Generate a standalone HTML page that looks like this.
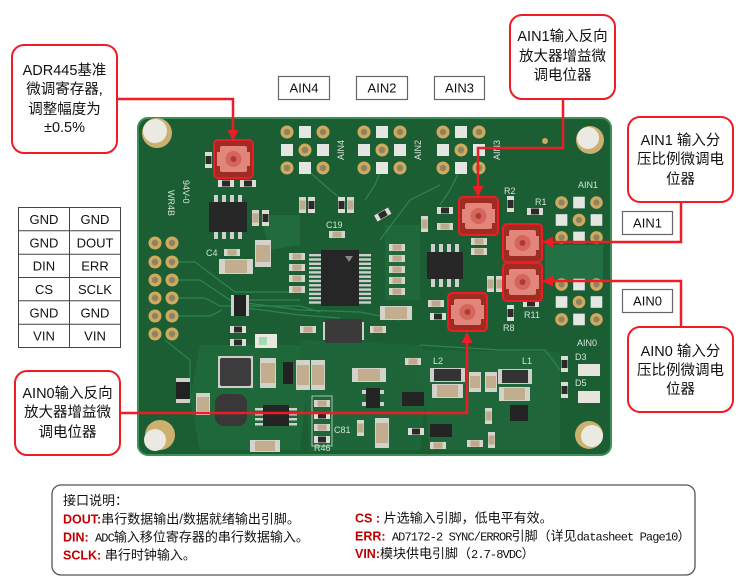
<!DOCTYPE html>
<html><head><meta charset="utf-8"><style>
html,body{margin:0;padding:0;background:#fff;}
svg{display:block;}
text{font-family:"Liberation Sans","Noto Sans CJK SC",sans-serif;}
.m{font-family:"Liberation Mono","Noto Sans CJK SC",monospace;font-size:12px;letter-spacing:-0.9px;}
.silk{fill:#d4e2d6;font-size:9px;}
</style></head><body>
<svg width="750" height="586" viewBox="0 0 750 586" xmlns="http://www.w3.org/2000/svg">
<defs>
<g id="rh"><rect width="16" height="7" fill="#dcdcd4"/><rect x="4" y="0.5" width="8" height="6" fill="#2a2a2a"/></g>
<g id="rv"><rect width="7" height="16" fill="#dcdcd4"/><rect x="0.5" y="4" width="6" height="8" fill="#2a2a2a"/></g>
<g id="ch"><rect width="16" height="7" fill="#d5d5cc"/><rect x="3.5" y="0.5" width="9" height="6" fill="#bda98c"/></g>
<g id="cv"><rect width="7" height="16" fill="#d5d5cc"/><rect x="0.5" y="3.5" width="6" height="9" fill="#bda98c"/></g>
<g id="gp"><circle r="6.5" fill="#cfa95e"/><circle r="3.2" fill="#8d8465"/></g>
<g id="wp"><rect x="-6" y="-6" width="12" height="12" fill="#e4e6e2"/></g>
<g id="grid">
<use href="#gp" x="-18" y="-18"/><use href="#wp" x="0" y="-18"/><use href="#gp" x="18" y="-18"/>
<use href="#wp" x="-18" y="0"/><use href="#gp" x="0" y="0"/><use href="#wp" x="18" y="0"/>
<use href="#gp" x="-18" y="18"/><use href="#wp" x="0" y="18"/><use href="#gp" x="18" y="18"/>
</g>
<g id="pot">
<rect x="0" y="0" width="39" height="38" rx="4" fill="#9e2c22" stroke="#ee1c24" stroke-width="2"/>
<rect x="6" y="6" width="27" height="26" rx="2" fill="#e2857b"/>
<rect x="3" y="12" width="33" height="14" fill="#e2857b"/>
<circle cx="19.5" cy="19" r="8" fill="#d4665d"/>
<circle cx="19.5" cy="19" r="3" fill="#b03a33"/>
</g>
</defs>

<!-- PCB -->
<rect x="138" y="118" width="473" height="337" rx="10" fill="#1b5e34" stroke="#3d8f58" stroke-width="2"/>
<!-- copper pours -->
<path d="M200 345 L300 345 L310 360 L300 450 L200 450 L190 400 Z" fill="#1f683a"/>
<path d="M300 340 L420 345 L430 360 L420 450 L310 450 Z" fill="#1e6639"/>
<path d="M420 350 L560 352 L560 450 L430 450 Z" fill="#1f673a"/>
<path d="M260 215 L300 215 L300 245 L270 250 Z" fill="#216b3c"/>
<rect x="545" y="245" width="58" height="36" fill="#247045"/>
<path d="M385 225 L420 225 L420 300 L385 300 Z" fill="#1f683a"/>
<!-- traces -->
<g fill="none" stroke="#2e8450" stroke-width="1.2">
<path d="M178 262 L195 262 L235 292 L300 292"/>
<path d="M178 280 L200 280 L230 300 L300 300"/>
<path d="M178 298 L205 298 L220 306 L300 306 L320 312"/>
<path d="M178 316 L210 316 L222 310"/>
<path d="M246 303 L300 310 L360 312 L400 320"/>
<path d="M246 308 L300 315 L340 318"/>
<path d="M305 168 L330 190 L340 198"/>
<path d="M382 168 L375 185 L365 200"/>
<path d="M461 168 L450 190 L440 205"/>
<path d="M380 240 L410 200 L440 185"/>
<path d="M420 345 L500 350 L545 350 L560 370"/>
<path d="M165 340 L190 360 L190 400"/>
</g>
<!-- mounting holes -->
<g><circle cx="157" cy="133" r="15" fill="#cbb070"/><circle cx="155" cy="131" r="12" fill="#ebeae2"/></g>
<g><circle cx="590" cy="140" r="14" fill="#cbb070"/><circle cx="588" cy="138" r="11" fill="#ebeae2"/></g>
<g><circle cx="160" cy="435" r="15" fill="#cbb070"/><circle cx="155" cy="440" r="11" fill="#ebeae2"/></g>
<g><circle cx="589" cy="435" r="14" fill="#cbb070"/><circle cx="592" cy="436" r="11" fill="#ebeae2"/></g>
<circle cx="545" cy="141" r="3" fill="#cfa95e"/>
<!-- AIN grids -->
<use href="#grid" x="305" y="150"/>
<use href="#grid" x="382" y="150"/>
<use href="#grid" x="461" y="150"/>
<g transform="translate(579 220) scale(0.97)"><use href="#grid"/></g>
<g transform="translate(579 302) scale(0.97)"><use href="#grid"/></g>
<!-- left connector -->
<use href="#gp" x="155" y="243"/><use href="#gp" x="172" y="243"/>
<use href="#gp" x="155" y="262"/><use href="#gp" x="172" y="262"/>
<use href="#gp" x="155" y="280"/><use href="#gp" x="172" y="280"/>
<use href="#gp" x="155" y="298"/><use href="#gp" x="172" y="298"/>
<use href="#gp" x="155" y="316"/><use href="#gp" x="172" y="316"/>
<use href="#gp" x="155" y="334"/><use href="#gp" x="172" y="334"/>

<!-- silkscreen -->
<text class="silk" x="0" y="0" transform="translate(183 180) rotate(90)" font-size="12">94V-0</text>
<text class="silk" x="0" y="0" transform="translate(168 190) rotate(90)" font-size="8">WR4B</text>
<text class="silk" transform="translate(344 160) rotate(-90)">AIN4</text>
<text class="silk" transform="translate(421 160) rotate(-90)">AIN2</text>
<text class="silk" transform="translate(500 160) rotate(-90)">AIN3</text>
<text class="silk" x="578" y="188">AIN1</text>
<text class="silk" x="577" y="346">AIN0</text>
<text class="silk" x="433" y="364">L2</text>
<text class="silk" x="522" y="364">L1</text>
<text class="silk" x="575" y="360">D3</text>
<text class="silk" x="575" y="386">D5</text>
<text class="silk" x="314" y="451">R46</text>
<text class="silk" x="334" y="433">C81</text>
<text class="silk" x="504" y="194">R2</text>
<text class="silk" x="535" y="205">R1</text>
<text class="silk" x="503" y="331">R8</text>
<text class="silk" x="524" y="318">R11</text>
<text class="silk" x="326" y="228">C19</text>
<text class="silk" x="206" y="256">C4</text>

<!-- ADR area components -->
<use href="#rv" x="205" y="152"/>
<use href="#rh" x="218" y="180"/><use href="#rh" x="240" y="180"/>
<g fill="#cfcfcf"><rect x="214" y="195" width="4" height="8"/><rect x="222" y="195" width="4" height="8"/><rect x="230" y="195" width="4" height="8"/><rect x="238" y="195" width="4" height="8"/>
<rect x="214" y="231" width="4" height="8"/><rect x="222" y="231" width="4" height="8"/><rect x="230" y="231" width="4" height="8"/><rect x="238" y="231" width="4" height="8"/></g>
<rect x="209" y="202" width="38" height="30" fill="#272727"/>
<use href="#cv" x="252" y="210"/><use href="#rv" x="262" y="210"/>
<rect x="255" y="240" width="16" height="27" fill="#d3d3cb"/><rect x="256" y="245" width="14" height="17" fill="#c2ad8f"/>
<use href="#ch" x="224" y="249"/>
<rect x="219" y="259" width="34" height="15" fill="#d3d3cb"/><rect x="225" y="260" width="22" height="13" fill="#c2ad8f"/>

<!-- main IC area -->
<use href="#cv" x="299" y="197"/><use href="#rv" x="308" y="197"/>
<use href="#rv" x="338" y="197"/><use href="#cv" x="347" y="197"/>
<use href="#ch" x="329" y="231"/>
<g transform="rotate(-30 383 215)"><use href="#rh" x="375" y="211"/></g>
<use href="#ch" x="289" y="253"/><use href="#ch" x="289" y="264"/><use href="#ch" x="289" y="275"/><use href="#ch" x="289" y="286"/>
<g fill="#cfcfcf">
<rect x="309" y="254" width="13" height="2.4"/><rect x="309" y="258.3" width="13" height="2.4"/><rect x="309" y="262.6" width="13" height="2.4"/><rect x="309" y="266.9" width="13" height="2.4"/><rect x="309" y="271.2" width="13" height="2.4"/><rect x="309" y="275.5" width="13" height="2.4"/><rect x="309" y="279.8" width="13" height="2.4"/><rect x="309" y="284.1" width="13" height="2.4"/><rect x="309" y="288.4" width="13" height="2.4"/><rect x="309" y="292.7" width="13" height="2.4"/><rect x="309" y="297" width="13" height="2.4"/><rect x="309" y="301.3" width="13" height="2.4"/>
<rect x="358" y="254" width="13" height="2.4"/><rect x="358" y="258.3" width="13" height="2.4"/><rect x="358" y="262.6" width="13" height="2.4"/><rect x="358" y="266.9" width="13" height="2.4"/><rect x="358" y="271.2" width="13" height="2.4"/><rect x="358" y="275.5" width="13" height="2.4"/><rect x="358" y="279.8" width="13" height="2.4"/><rect x="358" y="284.1" width="13" height="2.4"/><rect x="358" y="288.4" width="13" height="2.4"/><rect x="358" y="292.7" width="13" height="2.4"/><rect x="358" y="297" width="13" height="2.4"/><rect x="358" y="301.3" width="13" height="2.4"/>
</g>
<rect x="321" y="250" width="38" height="56" fill="#262626"/>
<path d="M345 256 L353 256 L349 262 Z" fill="#888"/>

<!-- right IC area -->
<g fill="#cfcfcf"><rect x="431" y="244" width="4" height="8"/><rect x="439" y="244" width="4" height="8"/><rect x="447" y="244" width="4" height="8"/><rect x="455" y="244" width="4" height="8"/>
<rect x="431" y="279" width="4" height="8"/><rect x="439" y="279" width="4" height="8"/><rect x="447" y="279" width="4" height="8"/><rect x="455" y="279" width="4" height="8"/></g>
<rect x="427" y="252" width="36" height="27" fill="#272727"/>
<use href="#ch" x="389" y="244"/><use href="#ch" x="389" y="255"/><use href="#ch" x="389" y="266"/><use href="#ch" x="389" y="277"/><use href="#ch" x="389" y="288"/>
<use href="#cv" x="421" y="216"/>
<use href="#rh" x="437" y="207"/><use href="#ch" x="437" y="223"/>
<use href="#ch" x="471" y="238"/><use href="#ch" x="471" y="248"/>
<use href="#rv" x="507" y="196"/><use href="#rh" x="527" y="208"/>
<use href="#rh" x="523" y="300"/><use href="#rv" x="507" y="305"/>
<use href="#ch" x="428" y="300"/><use href="#rh" x="430" y="313"/>
<rect x="380" y="306" width="32" height="14" fill="#d3d3cb"/><rect x="385" y="307" width="22" height="12" fill="#c2ad8f"/>
<use href="#cv" x="487" y="276"/><use href="#cv" x="496" y="276"/>

<!-- lower area -->
<rect x="323" y="322" width="41" height="18" fill="#cfcfc8"/>
<rect x="325" y="319" width="37" height="24" rx="2" fill="#3a3a3a"/>
<use href="#ch" x="300" y="326"/><use href="#ch" x="370" y="326"/>
<rect x="231" y="295" width="18" height="21" fill="#cfcfcf"/><rect x="234" y="295" width="12" height="21" fill="#222"/>
<use href="#rh" x="230" y="326"/><use href="#rh" x="230" y="339"/>
<rect x="255" y="334" width="22" height="14" fill="#e8e8e0"/><rect x="259" y="337" width="8" height="8" fill="#a8d8b0"/>
<rect x="218" y="356" width="35" height="32" fill="#cfcfc8"/><rect x="220" y="358" width="31" height="28" rx="2" fill="#3c3c3c"/>
<rect x="215" y="394" width="32" height="32" rx="9" fill="#383838"/>
<rect x="176" y="378" width="14" height="25" fill="#d0d0c8"/><rect x="176" y="382" width="14" height="17" fill="#222"/>
<rect x="196" y="393" width="14" height="22" fill="#d3d3cb"/><rect x="197" y="397" width="12" height="14" fill="#c2ad8f"/>
<rect x="260" y="358" width="16" height="30" fill="#d3d3cb"/><rect x="261" y="363" width="14" height="20" fill="#c2ad8f"/>
<rect x="296" y="360" width="14" height="30" fill="#d3d3cb"/><rect x="297" y="365" width="12" height="20" fill="#c2ad8f"/>
<rect x="311" y="360" width="14" height="30" fill="#d3d3cb"/><rect x="312" y="365" width="12" height="20" fill="#c2ad8f"/>
<rect x="283" y="362" width="10" height="22" fill="#222"/>
<g fill="#cfcfcf"><rect x="255" y="408" width="8" height="2.5"/><rect x="255" y="413" width="8" height="2.5"/><rect x="255" y="418" width="8" height="2.5"/><rect x="255" y="423" width="8" height="2.5"/>
<rect x="289" y="408" width="8" height="2.5"/><rect x="289" y="413" width="8" height="2.5"/><rect x="289" y="418" width="8" height="2.5"/><rect x="289" y="423" width="8" height="2.5"/></g>
<rect x="263" y="405" width="26" height="21" fill="#242424"/>
<rect x="312" y="396" width="20" height="50" fill="none" stroke="#cfe0d2" stroke-width="0.8"/>
<use href="#ch" x="314" y="400"/><use href="#rh" x="314" y="412"/><use href="#ch" x="314" y="424"/><use href="#rh" x="314" y="436"/>
<rect x="352" y="368" width="34" height="14" fill="#d3d3cb"/><rect x="358" y="369" width="22" height="12" fill="#c2ad8f"/>
<rect x="362" y="390" width="22" height="4" fill="#cfcfcf"/><rect x="362" y="402" width="22" height="4" fill="#cfcfcf"/>
<rect x="366" y="388" width="14" height="20" fill="#242424"/>
<use href="#cv" x="357" y="420"/>
<rect x="375" y="418" width="14" height="30" fill="#d3d3cb"/><rect x="376" y="423" width="12" height="20" fill="#c2ad8f"/>
<rect x="402" y="392" width="22" height="14" fill="#242424"/>
<use href="#ch" x="405" y="358"/><use href="#rh" x="408" y="428"/>
<rect x="430" y="368" width="35" height="14" fill="#cfcfc8"/><rect x="434" y="369" width="27" height="12" fill="#333"/>
<rect x="432" y="384" width="31" height="14" fill="#d3d3cb"/><rect x="437" y="385" width="21" height="12" fill="#c2ad8f"/>
<rect x="469" y="372" width="12" height="20" fill="#d3d3cb"/><rect x="470" y="376" width="10" height="12" fill="#c2ad8f"/>
<rect x="485" y="372" width="12" height="20" fill="#d3d3cb"/><rect x="486" y="376" width="10" height="12" fill="#c2ad8f"/>
<rect x="498" y="369" width="34" height="15" fill="#cfcfc8"/><rect x="502" y="370" width="26" height="13" fill="#333"/>
<rect x="499" y="387" width="31" height="14" fill="#d3d3cb"/><rect x="504" y="388" width="21" height="12" fill="#c2ad8f"/>
<rect x="510" y="405" width="18" height="16" fill="#242424"/>
<rect x="430" y="424" width="22" height="13" fill="#242424"/>
<use href="#cv" x="485" y="408"/><use href="#cv" x="488" y="432"/>
<use href="#ch" x="430" y="442"/><use href="#ch" x="467" y="440"/>
<use href="#rv" x="561" y="356"/><rect x="578" y="364" width="22" height="12" fill="#e5e5de"/>
<use href="#rv" x="561" y="382"/><rect x="578" y="391" width="22" height="12" fill="#e5e5de"/>
<rect x="250" y="440" width="30" height="12" fill="#d3d3cb"/><rect x="255" y="441" width="20" height="10" fill="#c2ad8f"/>

<!-- pots -->
<use href="#pot" x="214" y="140"/>
<use href="#pot" x="459" y="197"/>
<use href="#pot" x="503" y="224"/>
<use href="#pot" x="503" y="263"/>
<use href="#pot" x="448" y="293"/>

<!-- label boxes -->
<g fill="#fff" stroke="#666" stroke-width="1.2">
<rect x="278.5" y="76.5" width="51" height="23"/>
<rect x="356.5" y="76.5" width="51" height="23"/>
<rect x="434.5" y="76.5" width="50" height="23"/>
<rect x="622.5" y="211.5" width="50" height="23"/>
<rect x="622.5" y="289.5" width="50" height="23"/>
</g>
<g font-size="13" text-anchor="middle" dominant-baseline="central" fill="#111">
<text x="304" y="88">AIN4</text>
<text x="382" y="88">AIN2</text>
<text x="459.5" y="88">AIN3</text>
<text x="647.5" y="223">AIN1</text>
<text x="647.5" y="301">AIN0</text>
</g>

<!-- pin table -->
<g fill="none" stroke="#444" stroke-width="1">
<rect x="18.5" y="207.5" width="102" height="140"/>
<line x1="69.5" y1="207.5" x2="69.5" y2="347.5"/>
<line x1="18.5" y1="230.8" x2="120.5" y2="230.8"/>
<line x1="18.5" y1="254.2" x2="120.5" y2="254.2"/>
<line x1="18.5" y1="277.5" x2="120.5" y2="277.5"/>
<line x1="18.5" y1="300.8" x2="120.5" y2="300.8"/>
<line x1="18.5" y1="324.2" x2="120.5" y2="324.2"/>
</g>
<g font-size="13" text-anchor="middle" dominant-baseline="central" fill="#111">
<text x="44" y="219.5">GND</text><text x="95" y="219.5">GND</text>
<text x="44" y="242.8">GND</text><text x="95" y="242.8">DOUT</text>
<text x="44" y="266.2">DIN</text><text x="95" y="266.2">ERR</text>
<text x="44" y="289.5">CS</text><text x="95" y="289.5">SCLK</text>
<text x="44" y="312.8">GND</text><text x="95" y="312.8">GND</text>
<text x="44" y="336.2">VIN</text><text x="95" y="336.2">VIN</text>
</g>

<!-- callouts -->
<g fill="#fff" stroke="#ee1c24" stroke-width="2">
<rect x="12" y="45" width="105" height="108" rx="12"/>
<rect x="510" y="15" width="105" height="84" rx="12"/>
<rect x="628" y="117" width="105" height="85" rx="12"/>
<rect x="628" y="327" width="105" height="85" rx="12"/>
<rect x="15" y="371" width="105" height="84" rx="12"/>
</g>
<g font-size="14.5" text-anchor="middle" dominant-baseline="central" fill="#111">
<text x="64.5" y="71">ADR445基准</text>
<text x="64.5" y="90">微调寄存器,</text>
<text x="64.5" y="110">调整幅度为</text>
<text x="64.5" y="128">±0.5%</text>
<text x="562.5" y="37">AIN1输入反向</text>
<text x="562.5" y="57">放大器增益微</text>
<text x="562.5" y="76">调电位器</text>
<text x="680.5" y="141">AIN1 输入分</text>
<text x="680.5" y="160">压比例微调电</text>
<text x="680.5" y="180">位器</text>
<text x="680.5" y="352">AIN0 输入分</text>
<text x="680.5" y="371">压比例微调电</text>
<text x="680.5" y="390">位器</text>
<text x="67.5" y="394">AIN0输入反向</text>
<text x="67.5" y="413">放大器增益微</text>
<text x="67.5" y="433">调电位器</text>
</g>

<!-- connectors -->
<g fill="none" stroke="#ee1c24" stroke-width="2.5">
<polyline points="117,99 233,99 233,131"/>
<polyline points="563,99 563,148 478,148 478,187"/>
<polyline points="681,202 681,242 552,242"/>
<polyline points="681,327 681,281 552,281"/>
<polyline points="120,413 467,413 467,342"/>
</g>
<g fill="#ee1c24">
<polygon points="233,141 227.5,130 238.5,130"/>
<polygon points="478,197 472.5,186 483.5,186"/>
<polygon points="542,242 553,236.5 553,247.5"/>
<polygon points="542,281 553,275.5 553,286.5"/>
<polygon points="467,332 461.5,343 472.5,343"/>
</g>

<!-- bottom description -->
<rect x="52" y="485" width="643" height="90" rx="9" fill="#fff" stroke="#555" stroke-width="1.3"/>
<g font-size="13" fill="#111">
<text x="63" y="505">接口说明：</text>
<text x="63" y="523.5"><tspan fill="#c00000" font-weight="bold" font-size="12.5">DOUT:</tspan>串行数据输出/数据就绪输出引脚。</text>
<text x="63" y="541.5"><tspan fill="#c00000" font-weight="bold" font-size="12.5">DIN:</tspan><tspan class="m"> ADC</tspan>输入移位寄存器的串行数据输入。</text>
<text x="63" y="559.5"><tspan fill="#c00000" font-weight="bold" font-size="12.5">SCLK:</tspan> 串行时钟输入。</text>
<text x="355" y="522.5"><tspan fill="#c00000" font-weight="bold" font-size="12.5">CS :</tspan> 片选输入引脚，低电平有效。</text>
<text x="355" y="540.5"><tspan fill="#c00000" font-weight="bold" font-size="12.5">ERR:</tspan><tspan class="m"> AD7172-2 SYNC/ERROR</tspan>引脚（详见<tspan class="m">datasheet Page10</tspan>）</text>
<text x="355" y="558"><tspan fill="#c00000" font-weight="bold" font-size="12.5">VIN:</tspan>模块供电引脚（<tspan class="m">2.7-8VDC</tspan>）</text>
</g>
</svg>
</body></html>
